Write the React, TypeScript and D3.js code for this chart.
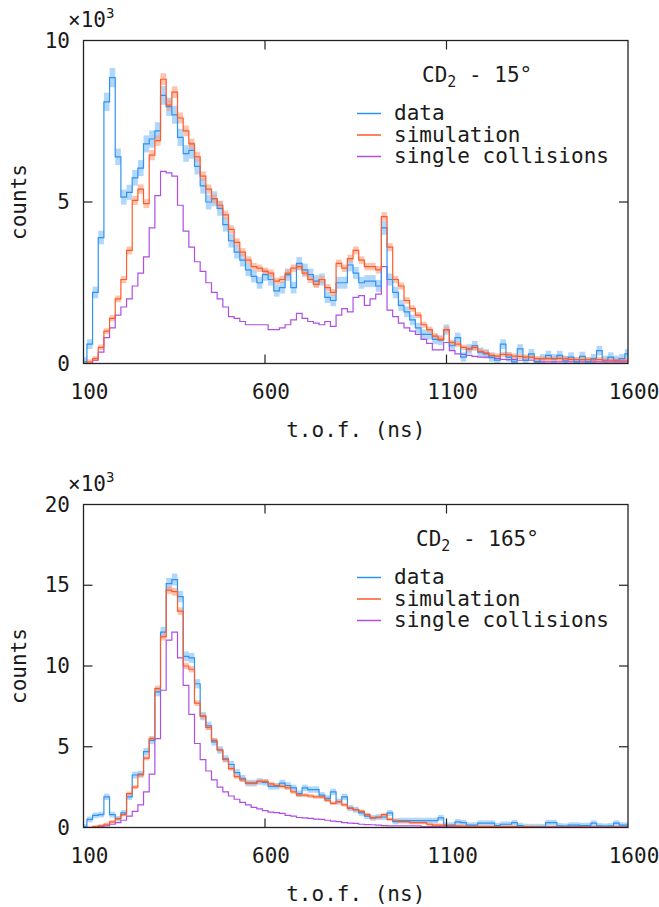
import * as d3 from 'd3';

// histogram binning (ns)
const BIN_START = 93.8;
const BIN_WIDTH = 15.6;

const xTicks = [100, 600, 1100, 1600];
const yTicksTop = [0, 5, 10];
const yTicksBottom = [0, 5, 10, 15, 20];
const legendLabels = ['data', 'simulation', 'single collisions'];

// counts (x10^3) per bin, CD2 - 15 deg
const dataTop = [
  0.05, 0.6, 2.2, 3.9, 8.1, 8.85, 6.4, 5.15, 5.3, 5.75,
  6.05, 6.8, 6.95, 7.2, 8.3, 7.95, 7.7, 7.0, 6.5, 6.6,
  6.1, 5.5, 5.0, 5.1, 4.8, 4.3, 3.8, 3.45, 3.2, 2.9,
  2.7, 2.5, 2.75, 2.6, 2.25, 2.35, 2.75, 2.35, 3.1, 2.9,
  2.75, 2.55, 2.6, 2.05, 1.95, 2.5, 2.5, 3.05, 2.8, 2.5,
  2.55, 2.55, 2.4, 4.2, 2.6, 2.2, 1.8, 1.6, 1.35, 1.1,
  0.9, 0.9, 0.75, 0.72, 1.05, 0.55, 0.8, 0.2, 0.45, 0.55,
  0.35, 0.3, 0.2, 0.1, 0.6, 0.2, 0.05, 0.45, 0.1, 0.3,
  0.05, 0.15, 0.25, 0.15, 0.25, 0.1, 0.2, 0.05, 0.22, 0.05,
  0.15, 0.4, 0.1, 0.2, 0.1, 0.15, 0.3,
];
const simTop = [
  0.0, 0.05, 0.15, 0.5, 1.0, 1.4, 2.0, 2.6, 3.5, 5.05,
  5.4, 4.95, 6.45, 6.9, 8.8, 8.0, 8.4, 7.6, 7.2, 6.8,
  6.4, 5.8, 5.4, 5.1, 4.9, 4.6, 4.15, 3.75, 3.45, 3.2,
  3.0, 2.95, 2.85, 2.8, 2.55, 2.6, 2.8, 2.95, 3.0, 2.8,
  2.6, 2.45, 2.6, 2.35, 2.2, 3.1, 2.95, 3.25, 3.5, 3.2,
  3.0, 3.0, 2.9, 4.55, 3.6, 2.6, 2.4, 1.95, 1.7, 1.5,
  1.2, 1.05, 0.85, 0.75, 1.05, 0.65, 0.6, 0.5, 0.45, 0.5,
  0.38, 0.33, 0.25, 0.23, 0.28, 0.27, 0.23, 0.22, 0.2, 0.2,
  0.15, 0.15, 0.15, 0.14, 0.16, 0.15, 0.13, 0.12, 0.12, 0.12,
  0.11, 0.12, 0.1, 0.1, 0.1, 0.1, 0.1,
];
const singleTop = [
  0.0, 0.0, 0.1, 0.35, 0.8, 1.1, 1.5, 1.75, 2.0, 2.4,
  2.8, 3.3, 4.2, 5.2, 5.95, 5.9, 5.8, 4.9, 4.1, 3.6,
  3.15, 2.85, 2.5, 2.2, 2.0, 1.75, 1.45, 1.4, 1.3, 1.2,
  1.2, 1.2, 1.2, 1.05, 1.05, 1.1, 1.2, 1.35, 1.55, 1.4,
  1.3, 1.25, 1.2, 1.3, 1.15, 1.5, 1.7, 1.6, 2.05, 2.1,
  1.8, 2.0, 2.15, 3.0, 1.65, 1.45, 1.25, 1.1, 1.0, 0.9,
  0.75, 0.62, 0.42, 0.42, 0.65, 0.4, 0.3, 0.28, 0.25, 0.22,
  0.2, 0.2, 0.18, 0.15, 0.13, 0.12, 0.12, 0.1, 0.1, 0.1,
  0.06, 0.05, 0.05, 0.05, 0.05, 0.05, 0.05, 0.05, 0.05, 0.05,
  0.05, 0.05, 0.05, 0.05, 0.05, 0.05, 0.05,
];

// counts (x10^3) per bin, CD2 - 165 deg
const dataBottom = [
  0.05, 0.5, 0.75, 0.8, 1.9, 0.8, 0.55, 0.9, 1.9, 3.25,
  3.3, 4.7, 5.4, 8.4, 12.1, 15.1, 15.35, 14.3, 10.6, 10.5,
  8.9, 6.9, 6.3, 5.3, 4.8, 4.25, 3.9, 3.4, 3.05, 2.75,
  2.75, 2.85, 2.8, 2.55, 2.55, 2.75, 2.6, 2.45, 2.1, 2.45,
  2.35, 2.35, 2.0, 1.8, 2.2, 1.6, 1.9, 1.2, 1.1, 0.9,
  0.7, 0.6, 0.65, 0.65, 0.9, 0.37, 0.43, 0.43, 0.43, 0.43,
  0.43, 0.43, 0.43, 0.6, 0.15, 0.15, 0.35, 0.3, 0.15, 0.15,
  0.27, 0.27, 0.27, 0.12, 0.2, 0.2, 0.3, 0.12, 0.06, 0.05,
  0.06, 0.05, 0.3, 0.3, 0.1, 0.08, 0.15, 0.15, 0.12, 0.12,
  0.27, 0.1, 0.08, 0.1, 0.27, 0.15, 0.15,
];
const simBottom = [
  0.0, 0.0, 0.05, 0.1, 0.2, 0.35, 0.55, 0.8, 2.1, 2.5,
  3.25, 4.3, 5.5, 8.6, 11.8, 14.7, 14.6, 13.4, 10.0, 9.8,
  7.7, 6.9, 6.2, 5.4, 4.8, 4.2, 3.65, 3.15, 2.95, 2.75,
  2.75, 2.85, 2.85, 2.7, 2.6, 2.55, 2.45, 2.2, 2.0, 2.0,
  1.95, 1.9, 1.9, 1.7, 1.5, 1.6, 1.4, 1.2, 1.1, 1.0,
  0.8, 0.6, 0.62, 0.8, 0.5, 0.45, 0.37, 0.37, 0.3, 0.3,
  0.3, 0.2, 0.15, 0.15, 0.1, 0.1, 0.1, 0.08, 0.07, 0.07,
  0.06, 0.06, 0.06, 0.05, 0.05, 0.05, 0.05, 0.04, 0.04, 0.04,
  0.03, 0.03, 0.03, 0.03, 0.03, 0.03, 0.03, 0.03, 0.03, 0.03,
  0.03, 0.03, 0.03, 0.03, 0.03, 0.03, 0.03,
];
const singleBottom = [
  0.0, 0.0, 0.0, 0.05, 0.1, 0.2, 0.3, 0.45, 0.7, 1.0,
  1.4, 2.2, 3.3, 5.5, 8.5, 11.6, 12.1, 10.5, 8.8, 7.0,
  5.2, 4.2, 3.5, 2.95, 2.5, 2.2, 1.95, 1.75, 1.55, 1.4,
  1.25, 1.15, 1.05, 0.95, 0.92, 0.88, 0.75, 0.7, 0.62, 0.6,
  0.57, 0.52, 0.5, 0.45, 0.4, 0.36, 0.3, 0.27, 0.25, 0.2,
  0.18, 0.17, 0.15, 0.12, 0.1, 0.1, 0.1, 0.1, 0.1, 0.1,
  0.06, 0.06, 0.06, 0.06, 0.06, 0.06, 0.06, 0.06, 0.06, 0.06,
  0.06, 0.04, 0.04, 0.04, 0.04, 0.04, 0.04, 0.04, 0.04, 0.04,
  0.04, 0.04, 0.04, 0.04, 0.04, 0.04, 0.04, 0.04, 0.04, 0.04,
  0.04, 0.04, 0.04, 0.04, 0.04, 0.04, 0.04,
];

const FONT = '"DejaVu Sans Mono", "Liberation Mono", monospace';
const COLORS = { data: '#2f93f2', sim: '#ff5a2a', single: '#b04ee2' };
const BANDS = { data: '#7dbdf8', sim: '#ff9c7a' };

const binLo = (i: number) => BIN_START + i * BIN_WIDTH;
const binHi = (i: number) => BIN_START + (i + 1) * BIN_WIDTH;

const Panel = ({ top, ymax, yTicks, angle, data, sim, single, dataErr, simErr, id }) => {
  const left = 83.5;
  const right = 628;
  const bottom = top + 323;

  const x = d3.scaleLinear().domain([100, 1600]).range([left, right]);
  const y = d3.scaleLinear().domain([0, ymax]).range([bottom, top]);

  const step = d3
    .line<number[]>()
    .x((d) => x(d[0]))
    .y((d) => y(d[1]));
  const stepPath = (vals: number[]) =>
    step(vals.flatMap((v, i) => [[binLo(i), v], [binHi(i), v]]));

  const bands = (vals: number[], err: (v: number) => number, fill: string) =>
    vals.map((v, i) => (
      <rect
        key={i}
        x={x(binLo(i))}
        width={x(binHi(i)) - x(binLo(i))}
        y={y(v + err(v))}
        height={y(v - err(v)) - y(v + err(v))}
        fill={fill}
        opacity={0.6}
      />
    ));

  const tickLen = 9;
  const innerY = yTicks.slice(1, -1);
  const innerX = xTicks.slice(1, -1);
  const legendY = top + 73;

  return (
    <g>
      <defs>
        <clipPath id={id}>
          <rect x={left} y={top} width={right - left} height={bottom - top} />
        </clipPath>
      </defs>

      <g clipPath={`url(#${id})`}>
        {bands(data, dataErr, BANDS.data)}
        {bands(sim, simErr, BANDS.sim)}
        <path d={stepPath(single)} fill="none" stroke={COLORS.single} strokeWidth={1.2} />
        <path d={stepPath(data)} fill="none" stroke={COLORS.data} strokeWidth={1.2} />
        <path d={stepPath(sim)} fill="none" stroke={COLORS.sim} strokeWidth={1.2} />
      </g>

      {/* frame + ticks */}
      <rect x={left} y={top} width={right - left} height={bottom - top} fill="none" stroke="#222" strokeWidth={1.3} />
      {innerY.map((t) => (
        <g key={`y${t}`} stroke="#222" strokeWidth={1.2}>
          <line x1={left} x2={left + tickLen} y1={y(t)} y2={y(t)} />
          <line x1={right} x2={right - tickLen} y1={y(t)} y2={y(t)} />
        </g>
      ))}
      {innerX.map((t) => (
        <g key={`x${t}`} stroke="#222" strokeWidth={1.2}>
          <line x1={x(t)} x2={x(t)} y1={bottom} y2={bottom - tickLen} />
          <line x1={x(t)} x2={x(t)} y1={top} y2={top + tickLen} />
        </g>
      ))}

      <g fontFamily={FONT} fontSize={21} fill="#1a1a1a">
        {yTicks.map((t) => (
          <text key={`yl${t}`} x={70} y={y(t)} textAnchor="end" dominantBaseline="central">
            {t}
          </text>
        ))}
        {xTicks.map((t) => (
          <text key={`xl${t}`} x={x(t) + 6} y={bottom + 35} textAnchor="middle">
            {t}
          </text>
        ))}
        <text x={68} y={top - 14}>
          ×10<tspan fontSize={14} dy={-9}>3</tspan>
        </text>
        <text
          transform={`translate(19,${(top + bottom) / 2}) rotate(-90)`}
          textAnchor="middle"
          dominantBaseline="central"
        >
          counts
        </text>
        <text x={(left + right) / 2} y={bottom + 73} textAnchor="middle">
          t.o.f. (ns)
        </text>

        <text x={angle.length > 3 ? 416 : 422} y={top + 41}>
          CD<tspan fontSize={15} dy={5}>2</tspan>
          <tspan dy={-5}> - {angle}</tspan>
        </text>

        {legendLabels.map((label, i) => {
          const ly = legendY + i * 21.5;
          const c = [COLORS.data, COLORS.sim, COLORS.single][i];
          return (
            <g key={label}>
              <line x1={357} x2={381} y1={ly} y2={ly} stroke={c} strokeWidth={1.5} />
              <text x={394} y={ly + 6.5}>
                {label}
              </text>
            </g>
          );
        })}
      </g>
    </g>
  );
};

export default function App() {
  return (
    <svg
      width={659}
      height={907}
      style={{ position: 'absolute', left: 0, top: 0, background: '#fff' }}
    >
      <Panel
        id="clipTop"
        top={40.5}
        ymax={10}
        yTicks={yTicksTop}
        angle="15°"
        data={dataTop}
        sim={simTop}
        single={singleTop}
        dataErr={(v: number) => 0.14 + 0.018 * v}
        simErr={(v: number) => 0.08 + 0.012 * v}
      />
      <Panel
        id="clipBottom"
        top={504.5}
        ymax={20}
        yTicks={yTicksBottom}
        angle="165°"
        data={dataBottom}
        sim={simBottom}
        single={singleBottom}
        dataErr={(v: number) => 0.17 + 0.013 * v}
        simErr={(v: number) => 0.1 + 0.01 * v}
      />
    </svg>
  );
}
